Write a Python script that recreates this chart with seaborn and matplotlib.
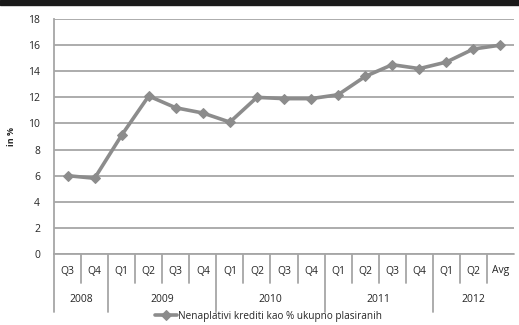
import pandas as pd
import numpy as np
import seaborn as sns
import matplotlib.pyplot as plt
import matplotlib.transforms as mtransforms

# quarterly NPL share data
quarters = ['Q3', 'Q4', 'Q1', 'Q2', 'Q3', 'Q4', 'Q1', 'Q2', 'Q3', 'Q4',
            'Q1', 'Q2', 'Q3', 'Q4', 'Q1', 'Q2', 'Avg']
years = ['2008', '2009', '2010', '2011', '2012']
year_sizes = [2, 4, 4, 4, 3]
npl_values = [6.0, 5.8, 9.1, 12.1, 11.2, 10.8, 10.1, 12.0, 11.9, 11.9,
              12.2, 13.6, 14.5, 14.2, 14.7, 15.7, 16.0]
series_name = 'Nenaplativi krediti kao % ukupno plasiranih'

df = pd.DataFrame({'pos': np.arange(len(quarters)), 'value': npl_values,
                   'series': series_name})

sns.set_style('white')
plt.rcParams['font.family'] = ['Open Sans', 'DejaVu Sans']

fig = plt.figure(figsize=(5.19, 3.25), dpi=100)
ax = fig.add_axes([54 / 519, 1 - 254 / 325, 460 / 519, 235 / 325])

grid_col = '#a6a6a6'
line_col = '#8c8c8c'
txt_col = '#262626'

sns.lineplot(data=df, x='pos', y='value', hue='series', palette=[line_col],
             marker='D', markersize=5.5, markeredgecolor=line_col,
             linewidth=2.6, ax=ax, legend=True)

ax.set_xlim(-0.5, len(quarters) - 0.5)
ax.set_ylim(0, 18)
ax.set_yticks(range(0, 19, 2))
ax.yaxis.grid(True, color=grid_col, linewidth=1.3)
ax.set_axisbelow(True)
for s in ['top', 'right', 'bottom']:
    ax.spines[s].set_visible(False)
ax.spines['left'].set_color(grid_col)
ax.spines['left'].set_linewidth(1.3)
ax.tick_params(axis='y', length=3, width=1.2, color=grid_col, labelsize=7.5, pad=7,
               labelcolor=txt_col)
ax.set_xticks([])
ax.set_xlabel('')
ax.set_ylabel('in %', fontsize=6.5, fontweight='bold', labelpad=9, color=txt_col)

# multi level category axis
trans = mtransforms.blended_transform_factory(ax.transData, ax.transAxes)
q_bottom = -(283 - 254) / 235
y_bottom = -(312 - 254) / 235
ax.plot([-0.5, len(quarters) - 0.5], [0, 0], color=grid_col, lw=1.3,
        transform=trans, clip_on=False)
ax.plot([-0.5, -0.5], [0, y_bottom], color=grid_col, lw=1.3,
        transform=trans, clip_on=False)
for i, q in enumerate(quarters):
    ax.text(i, -(271 - 254) / 235, q, transform=trans, ha='center', va='center',
            fontsize=7.5, color=txt_col)
year_edges = np.cumsum(year_sizes)
for i in range(1, len(quarters)):
    bottom = y_bottom if i in year_edges else q_bottom
    ax.plot([i - 0.5, i - 0.5], [0, bottom], color=grid_col, lw=1.3,
            transform=trans, clip_on=False)
start = 0
for yr, n in zip(years, year_sizes):
    ax.text(start + (n - 1) / 2, -(299 - 254) / 235, yr, transform=trans,
            ha='center', va='center', fontsize=7.5, color=txt_col)
    start += n

handles, labels = ax.get_legend_handles_labels()
ax.get_legend().remove()
fig.legend(handles, labels, loc='center', bbox_to_anchor=(268 / 519, 1 - 316 / 325),
           frameon=False, fontsize=7.2, handlelength=2.2, handletextpad=0.1,
           labelcolor=txt_col)

# dark band at the top from the cropped source
fig.patches.append(plt.Rectangle((0, 1 - 5 / 325), 1, 5 / 325, transform=fig.transFigure,
                                 color='#1a1a1a', zorder=10))

fig.savefig('out.png', dpi=100)
